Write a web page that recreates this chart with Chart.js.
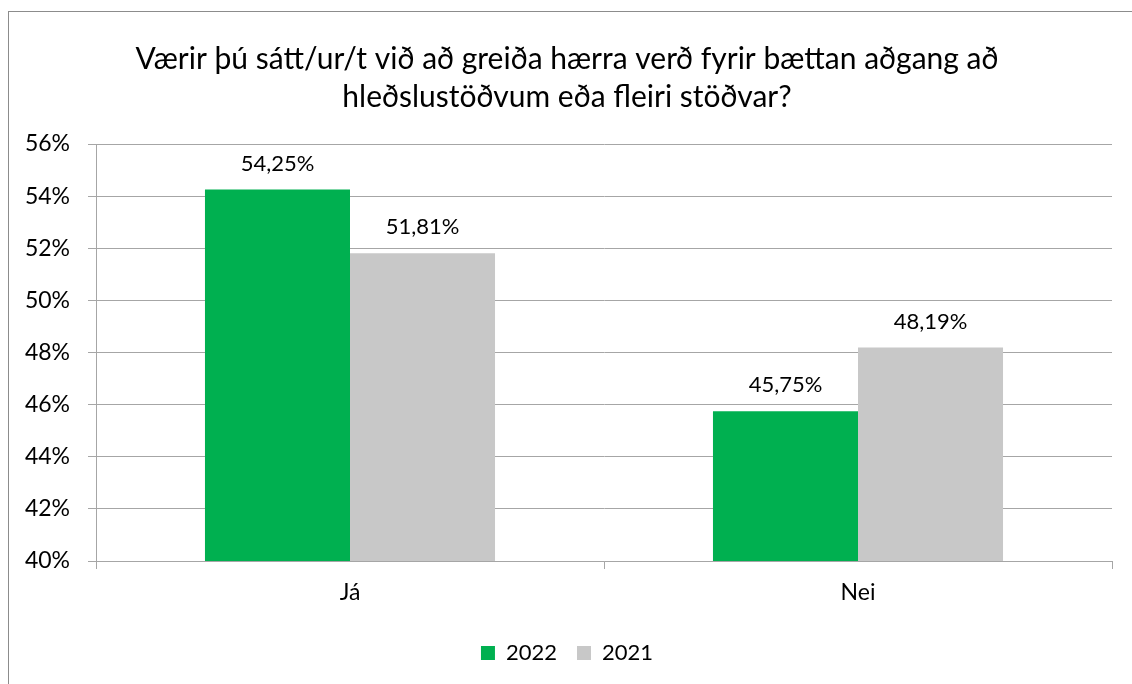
<!DOCTYPE html>
<html>
<head>
<meta charset="utf-8">
<script src="https://cdn.jsdelivr.net/npm/chart.js@4"></script>
<style>
  html, body { margin: 0; padding: 0; background: #fff; }
  #wrap { position: relative; width: 1132px; height: 684px; }
</style>
</head>
<body>
<div id="wrap"><canvas id="chart" width="1132" height="684"></canvas></div>
<script>
// data
const categories = ["Já", "Nei"]
const values2022 = [54.25, 45.75]
const values2021 = [51.81, 48.19]
const seriesLabels = ["2022", "2021"]
const yTicks = [40, 42, 44, 46, 48, 50, 52, 54, 56]
const titleLines = [
  "Værir þú sátt/ur/t við að greiða hærra verð fyrir bættan aðgang að",
  "hleðslustöðvum eða fleiri stöðvar?"
]

const FONT = "Lato, 'Open Sans', sans-serif"
const fmt = v => v.toFixed(2).replace(".", ",") + "%"

// outer frame like the spreadsheet chart border
const framePlugin = {
  id: "frame",
  beforeDraw(chart) {
    const ctx = chart.ctx
    ctx.save()
    ctx.fillStyle = "#fff"
    ctx.fillRect(0, 0, chart.width, chart.height)
    ctx.strokeStyle = "#8c8c8c"
    ctx.lineWidth = 1
    ctx.strokeRect(8.5, 11.5, 2000, 2000)
    ctx.restore()
  }
}

// value labels above each bar
const valueLabels = {
  id: "valueLabels",
  afterDatasetsDraw(chart) {
    const ctx = chart.ctx
    ctx.save()
    ctx.font = "22px " + FONT
    ctx.fillStyle = "#000"
    ctx.textAlign = "center"
    ctx.textBaseline = "middle"
    chart.data.datasets.forEach((ds, i) => {
      chart.getDatasetMeta(i).data.forEach((bar, j) => {
        ctx.fillText(fmt(ds.data[j]), bar.x, bar.y - 26)
      })
    })
    ctx.restore()
  }
}

new Chart(document.getElementById("chart"), {
  type: "bar",
  data: {
    labels: categories,
    datasets: [
      { label: seriesLabels[0], data: values2022, backgroundColor: "#00b050" },
      { label: seriesLabels[1], data: values2021, backgroundColor: "#c8c8c8" }
    ]
  },
  options: {
    responsive: false,
    animation: false,
    devicePixelRatio: 1,
    categoryPercentage: 0.571,
    barPercentage: 1,
    layout: { padding: { left: 22, right: 20, top: 0, bottom: 10 } },
    scales: {
      x: {
        grid: { offset: true, drawOnChartArea: false, tickLength: 8, color: "#a6a6a6" },
        border: { color: "#a6a6a6" },
        ticks: { color: "#000", font: { family: FONT, size: 23 }, padding: 10 },
        afterFit(scale) { scale.height = 61 }
      },
      y: {
        min: 40,
        max: 56,
        afterBuildTicks(scale) { scale.ticks = yTicks.map(v => ({ value: v })) },
        grid: { color: "#a6a6a6", tickLength: 8 },
        border: { color: "#a6a6a6" },
        ticks: {
          color: "#000",
          font: { family: FONT, size: 23 },
          padding: 18,
          callback: v => v + "%"
        },
        afterFit(scale) { scale.width = 74 }
      }
    },
    plugins: {
      title: {
        display: true,
        text: titleLines,
        color: "#000",
        font: { family: FONT, size: 30, weight: "normal", lineHeight: 1.25 },
        padding: { top: 41, bottom: 28 }
      },
      legend: {
        position: "bottom",
        labels: {
          color: "#000",
          font: { family: FONT, size: 22 },
          boxWidth: 14,
          boxHeight: 14,
          padding: 20
        }
      },
      tooltip: { enabled: false }
    }
  },
  plugins: [framePlugin, valueLabels]
})
</script>
</body>
</html>
